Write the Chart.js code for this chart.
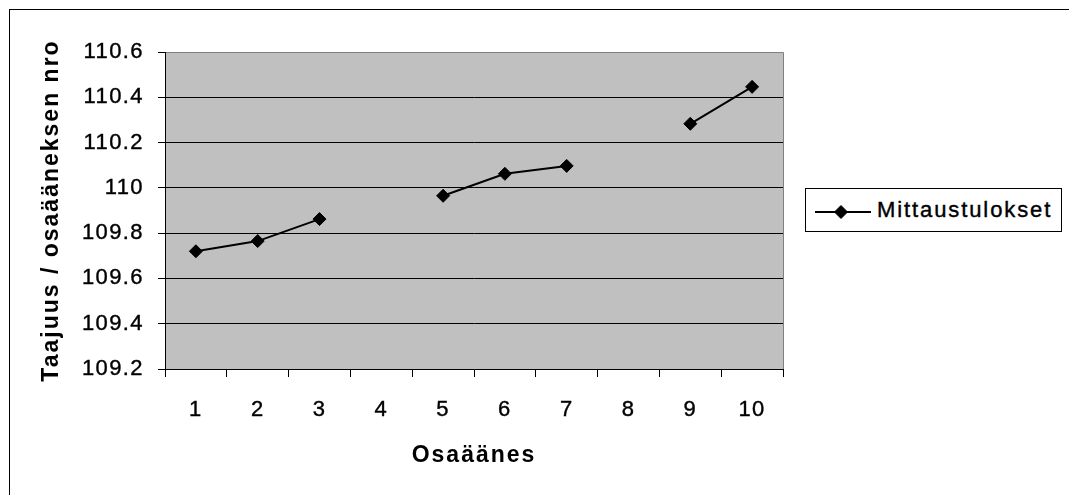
<!DOCTYPE html>
<html>
<head>
<meta charset="utf-8">
<script src="https://cdn.jsdelivr.net/npm/chart.js@4/dist/chart.umd.min.js"></script>
<style>
  html, body { margin: 0; padding: 0; background: #fff; overflow: hidden; }
  #frame { position: absolute; left: 9px; top: 9px; width: 1100px; height: 600px; border: 1px solid #000; box-sizing: border-box; }
  #chart { position: absolute; left: 0; top: 0; }
  #legend { position: absolute; left: 805px; top: 188px; width: 257px; height: 44px; border: 1px solid #000; box-sizing: border-box; background: #fff; }
  #legend .mark { position: absolute; left: 9px; top: 15px; }
  #legend .name { position: absolute; left: 71px; top: 8px; font-family: "Liberation Sans", Arial, sans-serif; font-size: 22px; line-height: 25px; letter-spacing: 1.9px; color: #000; white-space: nowrap; -webkit-text-stroke: 0.4px #000; }
</style>
</head>
<body>
<div id="frame"></div>
<canvas id="chart" width="1069" height="495"></canvas>
<div id="legend"></div>
<script>
// Harmonic number on the x axis
const categories = ['1', '2', '3', '4', '5', '6', '7', '8', '9', '10'];
// Measured frequency divided by harmonic number (no reading for 4 and 8)
const seriesName = 'Mittaustulokset';
const measured = [109.72, 109.765, 109.862, null, 109.965, 110.062, 110.097, null, 110.283, 110.446];
// Value axis ticks
const yTicks = [109.2, 109.4, 109.6, 109.8, 110, 110.2, 110.4, 110.6];
const xTitle = 'Osaäänes';
const yTitle = 'Taajuus / osaääneksen nro';

const FONT = '"Liberation Sans", Arial, sans-serif';

// Grey plot area with a soft grey frame on the top and right sides
const plotFill = {
  id: 'plotFill',
  beforeDraw(chart) {
    const { ctx, chartArea: a } = chart;
    ctx.save();
    ctx.fillStyle = '#c0c0c0';
    ctx.fillRect(a.left, a.top, a.right - a.left, a.bottom - a.top);
    ctx.strokeStyle = '#808080';
    ctx.lineWidth = 1;
    ctx.beginPath();
    ctx.moveTo(a.left, Math.round(a.top) + 0.5);
    ctx.lineTo(Math.round(a.right) + 0.5, Math.round(a.top) + 0.5);
    ctx.lineTo(Math.round(a.right) + 0.5, a.bottom);
    ctx.stroke();
    ctx.restore();
  }
};

// Wide-set lettering for every label the chart paints
const textSpacing = {
  id: 'textSpacing',
  beforeInit(chart) {
    const ctx = chart.ctx;
    const spacing = c => (/bold/.test(c.font) ? '2px' : '1.4px');
    const fill = ctx.fillText;
    const stroke = ctx.strokeText;
    ctx.fillText = function (text, x, y, maxWidth) {
      this.letterSpacing = spacing(this);
      return maxWidth === undefined ? fill.call(this, text, x, y) : fill.call(this, text, x, y, maxWidth);
    };
    ctx.strokeText = function (text, x, y, maxWidth) {
      this.letterSpacing = spacing(this);
      return maxWidth === undefined ? stroke.call(this, text, x, y) : stroke.call(this, text, x, y, maxWidth);
    };
  }
};

// Boxed legend built from the datasets
const htmlLegend = {
  id: 'htmlLegend',
  afterUpdate(chart) {
    const box = document.getElementById('legend');
    box.innerHTML = '';
    chart.data.datasets.forEach(ds => {
      const svgNS = 'http://www.w3.org/2000/svg';
      const svg = document.createElementNS(svgNS, 'svg');
      svg.setAttribute('class', 'mark');
      svg.setAttribute('width', '56');
      svg.setAttribute('height', '16');
      const line = document.createElementNS(svgNS, 'line');
      line.setAttribute('x1', '0'); line.setAttribute('x2', '56');
      line.setAttribute('y1', '8'); line.setAttribute('y2', '8');
      line.setAttribute('stroke', ds.borderColor);
      line.setAttribute('stroke-width', ds.borderWidth);
      const r = ds.pointRadius;
      const cx = 26, cy = 8;
      const dia = document.createElementNS(svgNS, 'polygon');
      dia.setAttribute('points', `${cx},${cy - r} ${cx + r},${cy} ${cx},${cy + r} ${cx - r},${cy}`);
      dia.setAttribute('fill', ds.backgroundColor);
      dia.setAttribute('stroke', ds.borderColor);
      dia.setAttribute('stroke-width', '1');
      svg.appendChild(line);
      svg.appendChild(dia);
      const name = document.createElement('span');
      name.className = 'name';
      name.textContent = ds.label;
      box.appendChild(svg);
      box.appendChild(name);
    });
  }
};

const tickStyle = { color: '#000', font: { family: FONT, size: 22 }, textStrokeColor: '#000', textStrokeWidth: 0.4 };

new Chart(document.getElementById('chart'), {
  type: 'line',
  data: {
    labels: categories,
    datasets: [{
      label: seriesName,
      data: measured,
      borderColor: '#000',
      backgroundColor: '#000',
      borderWidth: 2,
      pointStyle: 'rectRot',
      pointRadius: 6.5,
      pointHoverRadius: 6.5,
      pointBorderWidth: 1,
      spanGaps: false,
      tension: 0
    }]
  },
  options: {
    responsive: false,
    animation: false,
    devicePixelRatio: 1,
    events: [],
    layout: { padding: { left: 0, top: 52, right: 286, bottom: 0 } },
    plugins: {
      legend: { display: false },
      tooltip: { enabled: false }
    },
    scales: {
      x: {
        type: 'category',
        offset: true,
        grid: { offset: true, drawOnChartArea: false, tickLength: 8, tickColor: '#000', tickWidth: 1 },
        border: { color: '#000', width: 1 },
        ticks: { ...tickStyle, padding: 20, maxRotation: 0, autoSkip: false },
        title: {
          display: true, text: xTitle, color: '#000',
          font: { family: FONT, size: 23, weight: 'bold' },
          padding: { top: 0, bottom: 26 }
        },
        afterFit(scale) { scale.height = 126; }
      },
      y: {
        min: yTicks[0],
        max: yTicks[yTicks.length - 1],
        afterBuildTicks(scale) { scale.ticks = yTicks.map(v => ({ value: v })); },
        grid: {
          color: c => (c.tick && c.tick.value === yTicks[yTicks.length - 1]) ? '#808080' : '#000',
          tickColor: '#000',
          tickLength: 7,
          lineWidth: 1
        },
        border: { color: '#000', width: 1 },
        ticks: { ...tickStyle, padding: 14, callback: v => String(v) },
        title: {
          display: true, text: yTitle, color: '#000',
          font: { family: FONT, size: 23, weight: 'bold' },
          padding: { top: 38, bottom: 0 }
        },
        afterFit(scale) { scale.width = 165; }
      }
    }
  },
  plugins: [plotFill, textSpacing, htmlLegend]
});
</script>
</body>
</html>
